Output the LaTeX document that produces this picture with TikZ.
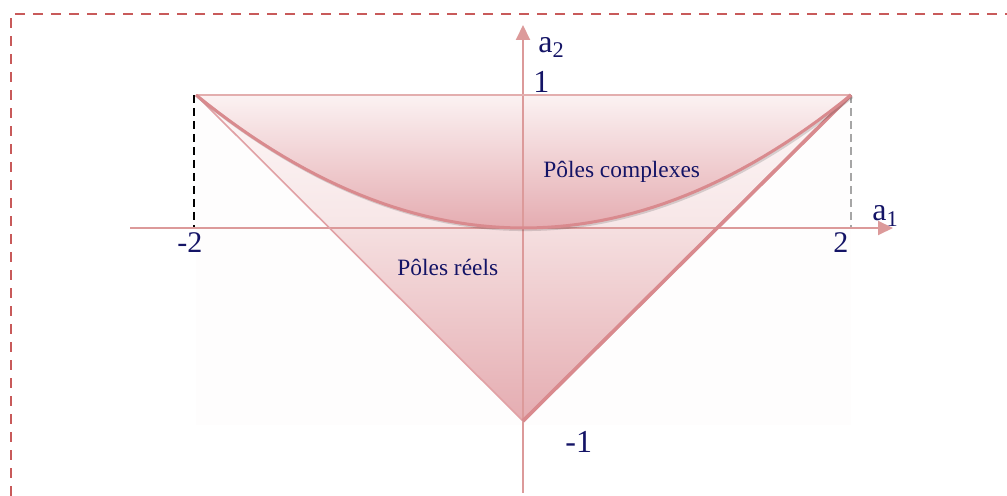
\documentclass[tikz,border=0pt]{standalone}
\usepackage{fontspec}
\setmainfont{Liberation Serif}
\usetikzlibrary{arrows.meta}
\definecolor{frameRed}{HTML}{C85A5A}
\definecolor{axisPink}{HTML}{DC9A9A}
\definecolor{curvePink}{HTML}{D98A8E}
\definecolor{navy}{HTML}{141466}
\definecolor{pinkDark}{HTML}{E4AAAF}
\definecolor{pinkSoft}{HTML}{F5DFE0}
\definecolor{pinkPale}{HTML}{F7E6E7}
\definecolor{pinkLight}{HTML}{FDF7F7}

\begin{document}
\begin{tikzpicture}[
  x=0.5pt, y=-0.5pt,
  every node/.style={text=navy, inner sep=0pt, anchor=base west},
  frame/.style={draw=frameRed, line width=1pt, dash pattern=on 5pt off 4pt},
  axisline/.style={draw=axisPink, line width=1pt, -{Triangle[length=7.5pt, width=7pt]}},
  rim/.style={draw=curvePink, line width=1.5pt, line join=round},
  rimthin/.style={draw=curvePink!80, line width=0.8pt},
  shadowline/.style={draw=black, opacity=0.14, line width=1.6pt, shift={(1.5,1.5)}},
  guide/.style={line width=0.8pt, dash pattern=on 4pt off 2.5pt},
  ticklab/.style={font=\fontsize{15}{17}\selectfont},
  axislab/.style={font=\fontsize{16}{18}\selectfont},
  zone/.style={font=\fontsize{11.7}{14}\selectfont},
]
\useasboundingbox (0,0) rectangle (1007,496);

%% Key points (pixels)
\coordinate (O) at (523,228);
\coordinate (L) at (196,95);
\coordinate (R) at (851,95);
\coordinate (B) at (523,421);
\coordinate (Lfoot) at (194,228);
\coordinate (Rfoot) at (851,228);

%% Faint backdrop
\fill[pinkLight!30] (L) rectangle (851,425);

%% Real poles triangle
\begin{scope}
  \clip (L) -- (R) -- (B) -- cycle;
  \shade[top color=pinkLight, bottom color=pinkPale] (196,95) rectangle (851,228);
  \shade[top color=pinkSoft, bottom color=pinkDark] (196,228) rectangle (851,430);
\end{scope}

%% Complex poles region
\begin{scope}
  \clip (L) -- (R) -- plot[domain=1:-1, samples=61] ({523.5+327.5*\x},{228-133*\x*\x}) -- cycle;
  \shade[top color=pinkLight, bottom color=pinkDark] (196,85) rectangle (851,232);
\end{scope}

%% Guides
\draw[guide, black] (194,95) -- (Lfoot);
\draw[guide, gray!70] (R) -- (Rfoot);

%% Axes
\coordinate (xstart) at (130,228);
\coordinate (xend) at (893,228);
\coordinate (ystart) at (523,493);
\coordinate (yend) at (523,25);
\draw[axisline] (xstart) -- (xend);
\draw[axisline] (ystart) -- (yend);

%% Curves
\draw[axisPink!80, line width=0.6pt] (L) -- (R);
\draw[rimthin] (L) -- (B);
\draw[shadowline] (R) -- (B);
\draw[rim, line width=1.8pt] (R) -- (B);
\draw[shadowline] plot[domain=-1:1, samples=61] ({523.5+327.5*\x},{228-133*\x*\x});
\draw[rim] plot[domain=-1:1, samples=61] ({523.5+327.5*\x},{228-133*\x*\x});

%% Frame
\draw[frame] (11,496) -- (11,14) -- (1007,14);

%% Labels
\node[axislab] (a2) at (538,52.5) {a\textsubscript{2}};
\node[axislab] (one) at (533,93) {1};
\node[axislab] (a1) at (872,221) {a\textsubscript{1}};
\node[ticklab] (m2) at (177,253) {-2};
\node[ticklab] (p2) at (833,253) {2};
\node[axislab] (m1) at (565,453) {-1};
\node[zone] (cplx) at (543,178) {Pôles complexes};
\node[zone] (reel) at (397,276) {Pôles réels};

\end{tikzpicture}
\end{document}
